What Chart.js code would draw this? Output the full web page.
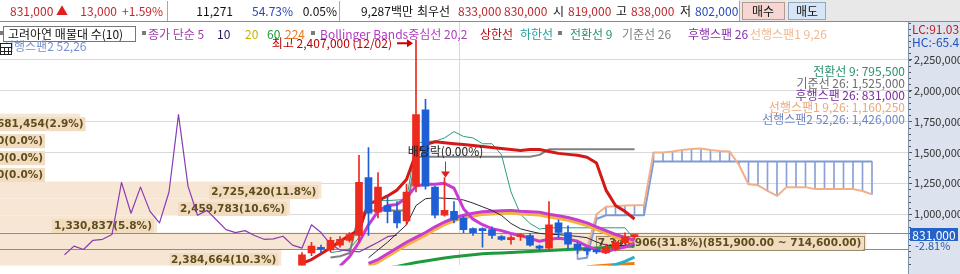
<!DOCTYPE html>
<html>
<head>
<meta charset="utf-8">
<script src="https://cdn.jsdelivr.net/npm/chart.js@4.4.1/dist/chart.umd.min.js"></script>
<style>
  html, body { margin: 0; padding: 0; background: #fff; overflow: hidden; }
  canvas { display: block; }
</style>
</head>
<body>
<canvas id="chart" width="960" height="274"></canvas>
<script>
// weekly candles, index 0..35 (index 12 = week of 12/02)
const opens  = [560000, 687500, 722000, 711000, 750000, 789000, 828000, 1297000, 1016000, 1070000, 1023000, 945000, 1227000, 1844000, 1219000, 992000, 1023000, 969000, 883000, 875000, 875000, 820000, 795000, 818000, 828000, 730000, 726000, 930000, 852000, 758000, 707000, 700000, 687000, 719000, 770000, 819000];
const highs  = [690000, 773000, 750000, 812000, 820000, 852000, 1477000, 1539000, 1336000, 1148000, 1102000, 1242000, 2407000, 1930000, 1227000, 1297000, 1102000, 984000, 890000, 890000, 898000, 828000, 828000, 844000, 844000, 750000, 1102000, 953000, 906000, 773000, 727000, 715000, 758000, 789000, 850000, 838000];
const lows   = [540000, 664000, 687000, 695000, 734000, 773000, 773000, 828000, 969000, 930000, 890000, 914000, 1180000, 1203000, 969000, 984000, 930000, 851000, 828000, 734000, 805000, 789000, 758000, 789000, 742000, 711000, 719000, 812000, 719000, 680000, 672000, 680000, 680000, 703000, 760000, 802000];
const closes = [672000, 742000, 715000, 789000, 797000, 836000, 1258000, 1008000, 1219000, 1023000, 930000, 1180000, 1805000, 1227000, 992000, 1031000, 953000, 875000, 851000, 867000, 828000, 797000, 800000, 822000, 750000, 726000, 914000, 852000, 758000, 711000, 703000, 695000, 734000, 773000, 818000, 831000];
const highIdx = 12, highDate = '12/02', exDivIdx = 15, yearBreak = 16.5;

// moving averages / bollinger, with start index
const ma5Start = 4;
const ma5 = [580000, 656000, 773000, 914000, 1023000, 1070000, 1078000, 1133000, 1227000, 1242000, 1242000, 1250000, 1211000, 1045000, 960000, 915000, 883000, 867000, 844000, 828000, 805000, 781000, 797000, 805000, 797000, 781000, 742000, 711000, 695000, 719000, 734000, 766000];
const ma10Start = 7;
const ma10 = [648000, 711000, 773000, 844000, 914000, 1070000, 1125000, 1133000, 1129000, 1125000, 1115000, 1090000, 1060000, 1030000, 990000, 925000, 882000, 862000, 845000, 838000, 835000, 828000, 820000, 810000, 775000, 750000, 745000, 748000, 750000];
const ma20Start = 7;
const ma20 = [580000, 611000, 658000, 705000, 751000, 790000, 830000, 876000, 915000, 947000, 970000, 986000, 998000, 1001000, 1005000, 1009000, 1001000, 998000, 994000, 978000, 966000, 951000, 931000, 908000, 876000, 845000, 814000, 790000, 767000];
const ma60Start = 9;
const ma60 = [565000, 578000, 594000, 609000, 621000, 633000, 645000, 656000, 664000, 672000, 680000, 684000, 687000, 691000, 695000, 699000, 703000, 707000, 711000, 715000, 719000, 723000, 727000, 730000, 734000, 738000, 742000];
const ma224Start = 30;
const ma224 = [575000, 582000, 588000, 594000, 598000, 602000];
const bbUpper = [602000, 633000, 680000, 727000, 781000, 828000, 875000, 1086000, 1109000, 1148000, 1195000, 1281000, 1492000, 1563000, 1586000, 1578000, 1570000, 1563000, 1555000, 1547000, 1539000, 1531000, 1523000, 1516000, 1523000, 1523000, 1508000, 1492000, 1484000, 1477000, 1461000, 1414000, 1195000, 1070000, 1023000, 961000];
const bbMidStart = 7;
const bbMid = [602000, 633000, 680000, 727000, 773000, 812000, 852000, 898000, 937000, 969000, 992000, 1008000, 1020000, 1023000, 1027000, 1031000, 1023000, 1020000, 1016000, 1000000, 988000, 973000, 953000, 930000, 898000, 867000, 836000, 812000, 789000];
const bbLowerStart = 32;
const bbLower = [560000, 592000, 618000, 652000];

// ichimoku
const tenkanStart = 3;
const tenkan = [690000, 700000, 720000, 810000, 1100000, 1110000, 1110000, 1115000, 1117000, 1570000, 1590000, 1590000, 1617000, 1668000, 1629000, 1617000, 1570000, 1570000, 1480000, 1180000, 1000000, 925000, 880000, 890000, 890000, 890000, 890000, 890000, 890000, 890000, 890000, 890000, 795500];
const kijunStart = 3;
const kijun = [650000, 660000, 686000, 998000, 1030000, 1030000, 1030000, 1030000, 1030000, 1465000, 1465000, 1465000, 1465000, 1465000, 1465000, 1465000, 1465000, 1465000, 1465000, 1465000, 1465000, 1465000, 1480000, 1525000, 1525000, 1525000, 1525000, 1525000, 1525000, 1525000, 1525000, 1525000, 1525000];
const lagShift = 25;
const spanStart = 29;
const senkouA = [700000, 720000, 1000000, 1060000, 1065000, 1070000, 1072500, 1073500, 1500000, 1500000, 1508000, 1520000, 1527000, 1531000, 1520000, 1512000, 1508000, 1398000, 1242000, 1234000, 1188000, 1148000, 1219000, 1219000, 1219000, 1203000, 1203000, 1203000, 1203000, 1203000, 1188000, 1160250];
const senkouB = [637000, 648500, 961000, 992000, 992000, 992000, 992000, 992000, 1426000, 1426000, 1426000, 1426000, 1426000, 1426000, 1426000, 1426000, 1426000, 1426000, 1426000, 1426000, 1426000, 1426000, 1426000, 1426000, 1426000, 1426000, 1426000, 1426000, 1426000, 1426000, 1426000, 1426000];

// volume profile (매물대), 10 price edges -> 9 bands
const bandEdges = [577300, 714600, 851900, 989200, 1126500, 1263800, 1401100, 1538400, 1675700, 1813000];
const bandVolume = [2384664, 7346906, 1330837, 2459783, 2725420, 0, 0, 0, 681454];
const bandPercent = [10.3, 31.8, 5.8, 10.6, 11.8, 0.0, 0.0, 0.0, 2.9];

const yTicks = [1000000, 1250000, 1500000, 1750000, 2000000, 2250000];

const KR = '"Noto Sans CJK KR", "Noto Sans", sans-serif';
const UP = '#ec2a1e', DOWN = '#1f5fd6';
const RED = '#c0282d', BLUE = '#2848b8';
const fmt = v => v.toLocaleString('en-US');
const pts = (arr, start) => arr.map((v, k) => ({ x: start + k, y: v }));
const last = closes.length - 1;

function line(label, data, color, width, order) {
    return { type: 'line', label, data, borderColor: color, borderWidth: width, pointRadius: 0,
             fill: false, tension: 0, order, borderJoinStyle: 'round' };
}

function text(c, s, x, y, color, align, font) {
    c.font = font || `12px ${KR}`;
    c.fillStyle = color;
    c.textAlign = align || 'left';
    c.textBaseline = 'middle';
    c.fillText(s, x, y);
}

const candleColor = ctx => closes[ctx.dataIndex] >= opens[ctx.dataIndex] ? UP : DOWN;

const cloud = senkouA.map((a, k) => ({ x: spanStart + k, y: [Math.min(a, senkouB[k]), Math.max(a, senkouB[k])] }));

const decor = {
    id: 'decor',
    beforeDraw(chart) {
        const c = chart.ctx;
        c.save();
        c.fillStyle = '#fff';
        c.fillRect(0, 0, 960, 274);
        c.fillStyle = '#dce3ee';
        c.fillRect(908, 22, 52, 252);
        c.restore();
    },
    beforeDatasetsDraw(chart) {
        const c = chart.ctx, a = chart.chartArea;
        const ys = chart.scales.y, xs = chart.scales.x, xv = chart.scales.xv;
        c.save();
        c.beginPath();
        c.rect(a.left, a.top, a.right - a.left, a.bottom - a.top);
        c.clip();

        // year boundary
        const yx = Math.round(xs.getPixelForValue(yearBreak)) + 0.5;
        c.strokeStyle = '#d9d9d9';
        c.lineWidth = 1;
        c.beginPath(); c.moveTo(yx, a.top); c.lineTo(yx, a.bottom); c.stroke();

        // profile bars
        let cur = 0;
        for (let k = 0; k < bandVolume.length; k++) {
            const y0 = ys.getPixelForValue(bandEdges[k]), y1 = ys.getPixelForValue(bandEdges[k + 1]);
            const w = xv.getPixelForValue(bandVolume[k]) - xv.getPixelForValue(0);
            c.fillStyle = '#f6e6d3';
            c.fillRect(a.left, y1, w, y0 - y1);
            if (closes[last] >= bandEdges[k] && closes[last] < bandEdges[k + 1]) cur = k;
        }
        // current band border lines
        c.strokeStyle = '#8c8c8c';
        [bandEdges[cur], bandEdges[cur + 1]].forEach(v => {
            const y = Math.round(ys.getPixelForValue(v)) + 0.5;
            c.beginPath(); c.moveTo(a.left, y); c.lineTo(a.right, y); c.stroke();
        });

        // profile labels
        c.font = `bold 10.5px "DejaVu Sans", sans-serif`;
        for (let k = 0; k < bandVolume.length; k++) {
            let s = `${fmt(bandVolume[k])}(${bandPercent[k].toFixed(1)}%)`;
            if (k === cur) {
                const f2 = v => v.toLocaleString('en-US', { minimumFractionDigits: 2 });
                s += `(${f2(bandEdges[k + 1])} ~ ${f2(bandEdges[k])})`;
            }
            const tw = c.measureText(s).width;
            const barEnd = xv.getPixelForValue(bandVolume[k]);
            const right = Math.max(barEnd - 5, a.left + tw - 3);
            const yc = (ys.getPixelForValue(bandEdges[k]) + ys.getPixelForValue(bandEdges[k + 1])) / 2 + 2;
            c.fillStyle = '#f2dcc0';
            c.fillRect(right - tw - 2, yc - 7, tw + 4, 14);
            if (k === cur) {
                c.strokeStyle = '#9c8a6c';
                c.strokeRect(Math.round(right - tw - 2) + 0.5, Math.round(yc - 7) + 0.5, Math.round(tw + 4), 14);
            }
            c.fillStyle = '#5e4c1c';
            c.textAlign = 'right';
            c.textBaseline = 'middle';
            c.fillText(s, right, yc + 0.5);
        }
        c.restore();
    },
    afterDatasetsDraw(chart) {
        const c = chart.ctx;
        const ys = chart.scales.y, xs = chart.scales.x;
        c.save();

        // highest price marker
        const hx = xs.getPixelForValue(highIdx), hy = ys.getPixelForValue(highs[highIdx]) + 3;
        text(c, `최고 ${fmt(highs[highIdx])} (${highDate})`, hx - 24, hy, '#c00000', 'right');
        c.strokeStyle = '#d00000'; c.fillStyle = '#d00000'; c.lineWidth = 2;
        c.beginPath(); c.moveTo(hx - 19, hy); c.lineTo(hx - 7, hy); c.stroke();
        c.beginPath(); c.moveTo(hx - 3, hy); c.lineTo(hx - 9, hy - 4); c.lineTo(hx - 9, hy + 4); c.closePath(); c.fill();

        // ex-dividend marker
        const ex = Math.round(xs.getPixelForValue(exDivIdx)) + 0.5, ey = ys.getPixelForValue(highs[exDivIdx]);
        c.lineWidth = 1; c.strokeStyle = '#e02020'; c.fillStyle = '#e02020';
        c.beginPath(); c.moveTo(ex, ey - 16); c.lineTo(ex, ey - 5); c.stroke();
        c.beginPath(); c.moveTo(ex - 4.5, ey - 6); c.lineTo(ex + 4.5, ey - 6); c.lineTo(ex, ey); c.closePath(); c.fill();
        text(c, '배당락(0.00%)', ex, ey - 26, '#222', 'center');

        // ichimoku value labels
        const lab = [
            [`전환선 9: ${fmt(tenkan[tenkan.length - 1])}`, '#2a9070'],
            [`기준선 26: ${fmt(kijun[kijun.length - 1])}`, '#6e6e6e'],
            [`후행스팬 26: ${fmt(closes[last])}`, '#7a2aa0'],
            [`선행스팬1 9,26: ${fmt(senkouA[senkouA.length - 1])}`, '#eca878'],
            [`선행스팬2 52,26: ${fmt(senkouB[senkouB.length - 1])}`, '#6f86c0']
        ];
        lab.forEach((l, k) => text(c, l[0], 905, 71 + k * 12, l[1], 'right'));
        c.restore();
    },
    afterDraw(chart) {
        const c = chart.ctx, ys = chart.scales.y;
        c.save();

        // header bar
        c.fillStyle = '#fff'; c.fillRect(0, 0, 960, 22);
        c.fillStyle = '#e8e8e8'; c.fillRect(739, 0, 221, 22);
        c.strokeStyle = '#a8a8a8'; c.lineWidth = 1;
        [167, 339, 739].forEach(x => { c.beginPath(); c.moveTo(x + 0.5, 1); c.lineTo(x + 0.5, 21); c.stroke(); });
        c.strokeStyle = '#8a8a8a';
        c.beginPath(); c.moveTo(0, 21.5); c.lineTo(960, 21.5); c.stroke();
        const head = [
            ['831,000', 10, RED, 'left'], ['▲', 56, '#e02020', 'left'], ['13,000', 117, RED, 'right'],
            ['+1.59%', 163, RED, 'right'], ['11,271', 233, '#111', 'right'], ['54.73%', 293, BLUE, 'right'],
            ['0.05%', 337, '#111', 'right'], ['9,287백만', 413, '#111', 'right'], ['최우선', 417, '#111', 'left'],
            ['833,000', 458, RED, 'left'], ['830,000', 504, RED, 'left'], ['시', 553, '#111', 'left'],
            ['819,000', 568, RED, 'left'], ['고', 616, '#111', 'left'], ['838,000', 631, RED, 'left'],
            ['저', 680, '#111', 'left'], ['802,000', 695, BLUE, 'left']
        ];
        head.forEach(h => text(c, h[0], h[1], 11, h[2], h[3]));
        // buttons
        c.fillStyle = '#f6d6d2'; c.fillRect(742, 2, 42, 18);
        c.strokeStyle = '#b89890'; c.strokeRect(742.5, 2.5, 42, 17);
        c.fillStyle = '#d6e6f6'; c.fillRect(788, 2, 38, 18);
        c.strokeStyle = '#90a8c0'; c.strokeRect(788.5, 2.5, 37, 17);
        text(c, '매수', 763, 11, '#111', 'center');
        text(c, '매도', 807, 11, '#111', 'center');

        // legend row
        const sq = x => { c.fillStyle = '#7a7a7a'; c.fillRect(x, 31, 4, 4); };
        sq(0); sq(142); sq(311); sq(558);
        c.strokeStyle = '#777';
        c.strokeRect(3.5, 26.5, 132, 15);
        const leg = [
            ['고려아연 매물대 수(10)', 8, '#111'], ['종가 단순 5', 148, '#a03ca8'], ['10', 217, '#1c1c5c'],
            ['20', 245, '#c8b000'], ['60', 267, '#1e9a3c'], ['224', 285, '#e87820'],
            ['Bollinger Bands중심선 20,2', 320, '#b03cc0'], ['상한선', 480, '#b01010'], ['하한선', 520, '#20a0a0'],
            ['전환선 9', 570, '#2a9070'], ['기준선 26', 622, '#808080'], ['후행스팬 26', 688, '#8a2cb0'],
            ['선행스팬1 9,26', 750, '#f0b890']
        ];
        leg.forEach(l => text(c, l[0], l[1], 34, l[2], 'left'));
        text(c, '선행스팬2 52,26', 3, 46, '#7890c8', 'left');
        // table icon
        c.fillStyle = '#fff'; c.fillRect(0, 43, 12, 12);
        c.strokeStyle = '#222'; c.strokeRect(0.5, 43.5, 11, 11);
        c.beginPath();
        c.moveTo(0, 47.5); c.lineTo(12, 47.5);
        c.moveTo(0, 51.5); c.lineTo(12, 51.5);
        c.moveTo(4.5, 47); c.lineTo(4.5, 55);
        c.moveTo(8.5, 47); c.lineTo(8.5, 55);
        c.stroke();

        // right panel extras
        c.strokeStyle = '#8090a8';
        c.beginPath(); c.moveTo(908.5, 22); c.lineTo(908.5, 274); c.stroke();
        c.strokeStyle = '#555';
        for (let v = 600000; v < 2560000; v += 50000) {
            const y = Math.round(ys.getPixelForValue(v)) + 0.5;
            c.beginPath(); c.moveTo(909, y); c.lineTo(911, y); c.stroke();
        }
        text(c, 'LC:91.03', 912, 29, '#c02020', 'left');
        text(c, 'HC:-65.4', 912, 42, '#2050c0', 'left');
        const py = ys.getPixelForValue(closes[last]);
        c.fillStyle = '#2462c8';
        c.fillRect(910, Math.round(py) - 7, 48, 13);
        text(c, fmt(closes[last]), 934, py, '#fff', 'center');
        text(c, '-2.81%', 915, py + 11, '#2a58b0', 'left', `11px ${KR}`);
        c.restore();
    }
};

new Chart(document.getElementById('chart'), {
    type: 'line',
    data: {
        datasets: [
            { type: 'bar', label: 'body', data: closes.map((cl, i) => ({ x: i, y: [opens[i], cl] })),
              backgroundColor: candleColor, barThickness: 7, minBarLength: 2, grouped: false, order: 1 },
            { type: 'bar', label: 'wick', data: closes.map((cl, i) => ({ x: i, y: [lows[i], highs[i]] })),
              backgroundColor: candleColor, barThickness: 1, grouped: false, order: 2 },
            line('MA5', pts(ma5, ma5Start), '#c83ccf', 3, 3),
            line('MA10', pts(ma10, ma10Start), '#2a2a3a', 1, 4),
            line('BB upper', bbUpper.map((v, i) => ({ x: i, y: v })), '#d41818', 3, 5),
            line('BB mid', pts(bbMid, bbMidStart), '#c83ccf', 3, 6),
            line('MA20', pts(ma20, ma20Start), '#f2b33d', 3, 7),
            line('BB lower', pts(bbLower, bbLowerStart), '#22b4c4', 3, 8),
            line('MA60', pts(ma60, ma60Start), '#1e9a3c', 3, 9),
            line('MA224', pts(ma224, ma224Start), '#f07a10', 3, 10),
            line('lagging', closes.map((v, i) => ({ x: i - lagShift, y: v })), '#8a3cb4', 1.2, 11),
            line('tenkan', pts(tenkan, tenkanStart), '#2a9d7a', 1, 12),
            line('kijun', pts(kijun, kijunStart), '#808080', 2, 13),
            line('senkouA', pts(senkouA, spanStart), '#f2b088', 2, 14),
            line('senkouB', pts(senkouB, spanStart), '#7f9bd6', 2, 15),
            { type: 'bar', label: 'cloud', data: cloud, backgroundColor: '#8aa0d6', barThickness: 1, grouped: false, order: 16 }
        ]
    },
    options: {
        responsive: false,
        devicePixelRatio: 1,
        animation: false,
        events: [],
        layout: { padding: { top: 22, left: 0, right: 0, bottom: 0 } },
        plugins: { legend: { display: false }, tooltip: { enabled: false } },
        scales: {
            x: { type: 'linear', min: -302 / 9.5, max: (908 - 302) / 9.5, display: false, offset: false },
            xv: { type: 'linear', min: 0, max: 7700000, display: false },
            y: {
                position: 'right',
                min: 585937.5,
                max: 2554687.5,
                afterBuildTicks: s => { s.ticks = yTicks.map(v => ({ value: v })); },
                afterFit: s => { s.width = 52; },
                ticks: { callback: v => fmt(v), color: '#333', font: { size: 11, family: KR }, padding: 2 },
                grid: { color: '#dadada', tickLength: 4, tickColor: '#555' },
                border: { display: false }
            }
        }
    },
    plugins: [decor]
});
</script>
</body>
</html>
